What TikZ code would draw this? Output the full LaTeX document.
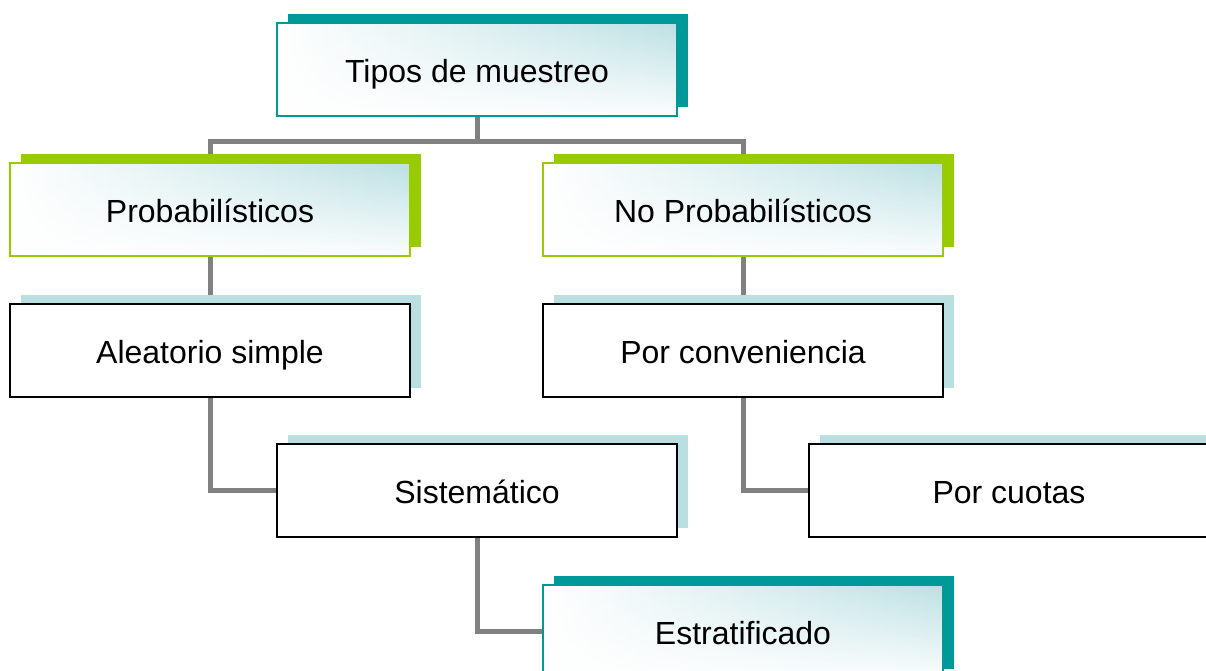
\documentclass[tikz,border=0pt]{standalone}
\usepackage{fontspec}
\setmainfont{Liberation Sans}
\usetikzlibrary{shadows,backgrounds,fadings}
\definecolor{sampteal}{RGB}{0, 153, 153}
\definecolor{sampgreen}{RGB}{153, 204, 0}
\definecolor{samppale}{RGB}{185, 223, 224}
\definecolor{sampgrad}{RGB}{188, 224, 227}
\definecolor{sampline}{RGB}{128, 128, 128}
\tikzfading[name=lowfade, top color=transparent!100, middle color=transparent!85, bottom color=transparent!5]

\begin{document}
\begin{tikzpicture}[x=1pt, y=-1pt, node distance=140.5pt,
        box/.style={rectangle, minimum width=400pt, minimum height=93pt, inner sep=0pt,
            text height=26pt, text depth=0pt, line width=2pt, font=\fontsize{32}{38}\selectfont},
        glassy/.style={left color=white, right color=sampgrad,
            path picture={\fill[white, path fading=lowfade]
                (path picture bounding box.south west) rectangle (path picture bounding box.north east);}},
        tealbox/.style={box, glassy, draw=sampteal,
            drop shadow={shadow xshift=11pt, shadow yshift=9pt, fill=sampteal, opacity=1}},
        greenbox/.style={box, glassy, draw=sampgreen,
            drop shadow={shadow xshift=11pt, shadow yshift=9pt, fill=sampgreen, opacity=1}},
        plainbox/.style={box, draw=black, fill=white,
            drop shadow={shadow xshift=11pt, shadow yshift=9pt, fill=samppale, opacity=1}},
        link/.style={draw=sampline, line width=5pt}]
        \useasboundingbox (0,0) rectangle (1206,670);

        \node (tipos) [tealbox] at (477,69) {Tipos de muestreo};
        \node (prob) [greenbox, below of=tipos, xshift=-267pt] {Probabilísticos};
        \node (noprob) [greenbox, below of=tipos, xshift=266pt] {No Probabilísticos};
        \node (aleat) [plainbox, below of=prob] {Aleatorio simple};
        \node (conv) [plainbox, below of=noprob] {Por conveniencia};
        \node (sist) [plainbox, below of=aleat, xshift=267pt] {Sistemático};
        \node (cuotas) [plainbox, below of=conv, xshift=266pt] {Por cuotas};
        \node (estrat) [tealbox, below of=sist, xshift=266pt] {Estratificado};

        % connectors behind the boxes
        \begin{scope}[on background layer]
            \draw[link] (tipos.south) -- ++(0,25) -| (prob.north);
            \draw[link] (tipos.south) -- ++(0,25) -| (noprob.north);
            \draw[link] (prob) -- (aleat);
            \draw[link] (noprob) -- (conv);
            \draw[link] (aleat.south) |- (sist.west);
            \draw[link] (conv.south) |- (cuotas.west);
            \draw[link] (sist.south) |- (estrat.west);
        \end{scope}
    \end{tikzpicture}
\end{document}
